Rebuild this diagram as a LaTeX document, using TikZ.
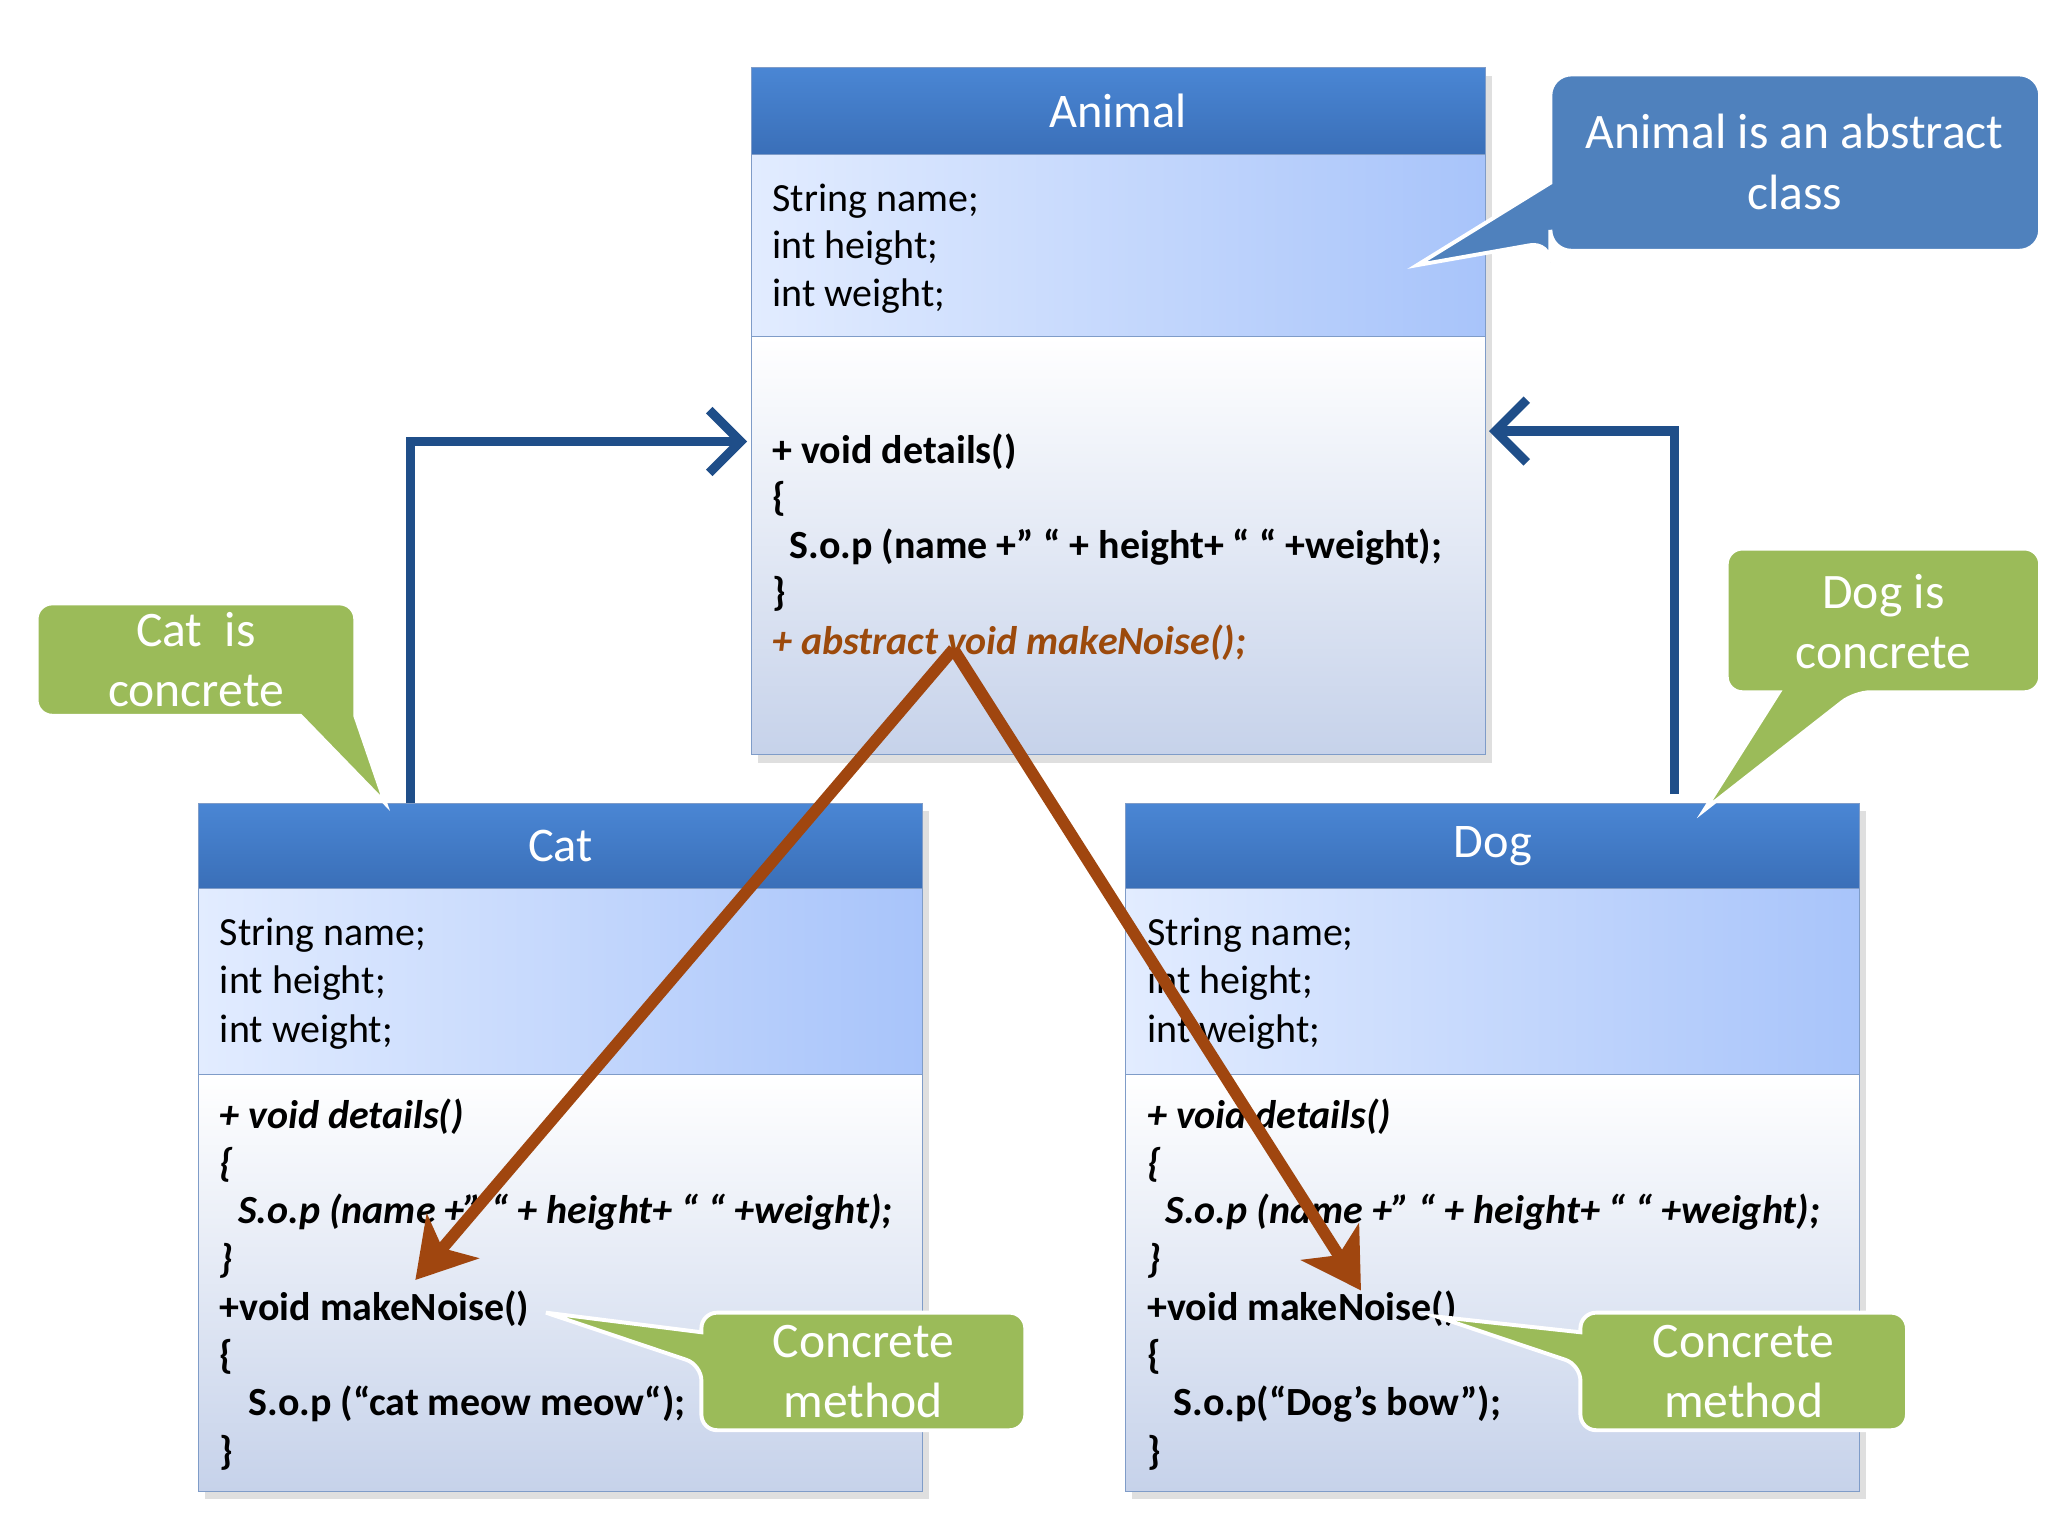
\documentclass[tikz,border=0pt]{standalone}
\usepackage{fontspec}
\setmainfont{Carlito}
\usetikzlibrary{arrows.meta}
\definecolor{hdr}{HTML}{3A6FB8}
\definecolor{hdrTop}{HTML}{4A86D4}
\definecolor{attrL}{HTML}{E2ECFF}
\definecolor{attrR}{HTML}{A8C4FA}
\definecolor{methB}{HTML}{C6D2EA}
\definecolor{boxline}{HTML}{7F9CC8}
\definecolor{calB}{HTML}{4F81BD}
\definecolor{calG}{HTML}{9BBB59}
\definecolor{brown}{HTML}{A0460F}
\definecolor{inh}{HTML}{1F4E89}
\definecolor{abs}{HTML}{9C4A0C}
\begin{document}
\begin{tikzpicture}[x=0.5pt,y=-0.5pt,
  hdrs/.style={top color=hdrTop,bottom color=hdr,draw=boxline},
  attrs/.style={left color=attrL,right color=attrR,draw=boxline},
  meths/.style={top color=white,bottom color=methB,draw=boxline},
  title/.style={text=white,font=\fontsize{18.5}{20}\selectfont},
  txt/.style={anchor=west,inner sep=0,font=\fontsize{15.3}{18}\selectfont},
  bf/.style={txt,font=\fontsize{15.3}{18}\selectfont\bfseries},
  bi/.style={txt,font=\fontsize{15.3}{18}\selectfont\bfseries\itshape},
  calt/.style={text=white,align=center,font=\fontsize{19}{23}\selectfont},
  blue call/.style={fill=calB,draw=white,line width=1.5pt,rounded corners=8pt},
  green call/.style={fill=calG,draw=white,line width=1.5pt,rounded corners=6pt},
  inharrow/.style={draw=inh,line width=3.5pt,-{Straight Barb[length=12pt,width=24pt,line width=3.5pt]}},
  brarrow/.style={draw=brown,line width=4.5pt,-{Stealth[length=22pt,width=26pt,inset=6pt]}}]
\useasboundingbox (0,0) rectangle (1568,1176);

% Animal
\fill[gray!25] (580,58) rectangle (1142,584);
\path[hdrs] (575,52) rectangle (1137,118);
\path[attrs] (575,118) rectangle (1137,258);
\path[meths] (575,258) rectangle (1137,578);
\node[title] (animal) at (856,85) {Animal};
\node[txt] at (591,154) {String name;};
\node[txt] at (591,190) {int height;};
\node[txt] at (591,227) {int weight;};
\node[bf] (ad) at (591,346) {+ void details()};
\node[bf] at (591,382) {\{};
\node[bf] at (604,419) {S.o.p (name +” “ + height+ “ “ +weight);};
\node[bf] at (591,455) {\}};
\node[bi,text=abs] (amn) at (591,492) {+ abstract void makeNoise();};
\coordinate (aL) at (572,338);
\coordinate (aR) at (1140,330);
\coordinate (amnc) at (730,497);

% Cat
\fill[gray!25] (157,621) rectangle (711,1148);
\path[hdrs] (152,615) rectangle (706,680);
\path[attrs] (152,680) rectangle (706,823);
\path[meths] (152,823) rectangle (706,1142);
\node[title] (cat) at (429,648) {Cat};
\node[txt] at (168,716) {String name;};
\node[txt] at (168,753) {int height;};
\node[txt] at (168,790) {int weight;};
\node[bi] at (168,855) {+ void details()};
\node[bi] at (168,892) {\{};
\node[bi] at (182,928) {S.o.p (name +” “ + height+ “ “ +weight);};
\node[bi] at (168,965) {\}};
\node[bf] (cmn) at (168,1002) {+void makeNoise()};
\node[bf] at (168,1039) {\{};
\node[bf] at (190,1075) {S.o.p (“cat meow meow“);};
\node[bf] at (168,1112) {\}};
\coordinate (cT) at (314,615);
\coordinate (cmnA) at (318,980);

% Dog
\fill[gray!25] (867,621) rectangle (1429,1148);
\path[hdrs] (862,615) rectangle (1424,680);
\path[attrs] (862,680) rectangle (1424,823);
\path[meths] (862,823) rectangle (1424,1142);
\node[title] (dog) at (1143,648) {Dog};
\node[txt] at (878,716) {String name;};
\node[txt] at (878,753) {int height;};
\node[txt] at (878,790) {int weight;};
\node[bi] at (878,855) {+ void details()};
\node[bi] at (878,892) {\{};
\node[bi] at (892,928) {S.o.p (name +” “ + height+ “ “ +weight);};
\node[bi] at (878,965) {\}};
\node[bf] (dmn) at (878,1002) {+void makeNoise()};
\node[bf] at (878,1039) {\{};
\node[bf] at (898,1075) {S.o.p(“Dog’s bow”);};
\node[bf] at (878,1112) {\}};
\coordinate (dT) at (1282,608);
\coordinate (dmnA) at (1042,988);

% inheritance arrows
\draw[inharrow] (cT) -- (314,338) -- (aL);
\draw[inharrow] (dT) -- (1282,330) -- (aR);

% brown arrows
\draw[brarrow] (amnc) -- (cmnA);
\draw[brarrow] (amnc) -- (dmnA);

% callouts
\path[blue call] (1187,57) -- (1562,57) -- (1562,192) -- (1187,192) -- (1187,185) [sharp corners]-- (1085,203) -- (1187,140) [rounded corners=8pt]-- cycle;
\node[calt] (c1) at (1374,124) {Animal is an abstract\\class};

\path[green call] (28,462) -- (272,462) -- (272,548) [sharp corners]-- (272,548) -- (295,615) -- (230,548) [rounded corners=6pt]-- (28,548) -- cycle;
\node[calt] (c2) at (150,505) {Cat~~is\\concrete};

\path[green call] (1322,420) -- (1562,420) -- (1562,530) -- (1420,530) [sharp corners]-- (1305,620) -- (1362,530) [rounded corners=6pt]-- (1322,530) -- cycle;
\node[calt] (c3) at (1442,476) {Dog is\\concrete};

\path[green call] (537,1005) -- (785,1005) -- (785,1095) -- (537,1095) -- (537,1045) [sharp corners]-- (418,1005) -- (537,1020) [rounded corners=6pt]-- cycle;
\node[calt] (c4) at (661,1050) {Concrete\\method};

\path[green call] (1210,1005) -- (1460,1005) -- (1460,1095) -- (1210,1095) -- (1210,1045) [sharp corners]-- (1100,1008) -- (1210,1020) [rounded corners=6pt]-- cycle;
\node[calt] (c5) at (1335,1050) {Concrete\\method};
\end{tikzpicture}
\end{document}
